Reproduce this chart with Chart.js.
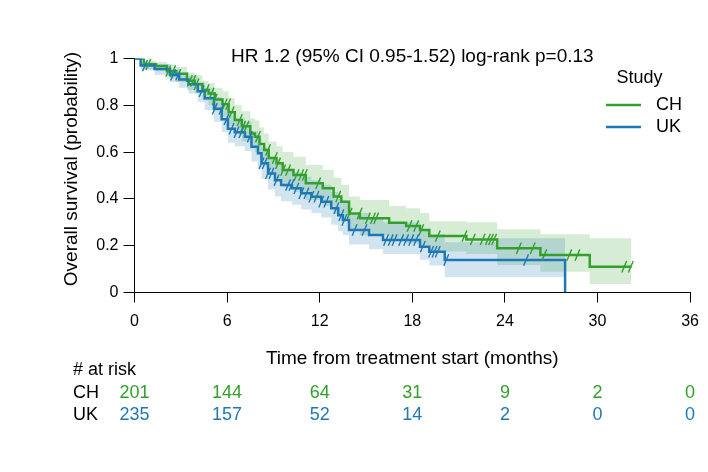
<!DOCTYPE html>
<html>
<head>
<meta charset="utf-8">
<title>Overall survival by study</title>
<script src="https://cdn.jsdelivr.net/npm/chart.js@4/dist/chart.umd.min.js"></script>
<style>
  html, body { margin: 0; padding: 0; background: #fff; }
  #wrap { width: 708px; height: 472px; }
</style>
</head>
<body>
<div id="wrap"><canvas id="kmChart" width="708" height="472"></canvas></div>
<script>
// Kaplan-Meier step values (time in months)
const chTime  = [0, 0.6, 1.4, 2.1, 2.7, 3.4, 3.9, 4.4, 4.8, 5.2, 5.7, 6.1, 6.5, 6.95, 7.5, 7.8, 8.1, 8.4, 8.7, 9.2, 9.6, 10.3, 11.1, 12.2, 12.9, 13.4, 13.9, 14.6, 16.5, 17.6, 18.5, 19.1, 21.5, 23.5, 26.3, 29.5, 32.2];
const chSurv  = [1, 0.975, 0.968, 0.946, 0.935, 0.905, 0.89, 0.865, 0.85, 0.825, 0.805, 0.77, 0.737, 0.71, 0.68, 0.666, 0.635, 0.609, 0.575, 0.552, 0.523, 0.502, 0.467, 0.445, 0.41, 0.388, 0.338, 0.317, 0.298, 0.284, 0.267, 0.241, 0.227, 0.189, 0.16, 0.11, 0.11];
const chLower = [1, 0.955, 0.945, 0.915, 0.9, 0.865, 0.85, 0.82, 0.8, 0.775, 0.75, 0.71, 0.675, 0.645, 0.615, 0.6, 0.565, 0.54, 0.505, 0.48, 0.45, 0.43, 0.395, 0.37, 0.335, 0.315, 0.265, 0.245, 0.225, 0.21, 0.195, 0.175, 0.165, 0.117, 0.089, 0.036, 0.036];
const chUpper = [1, 0.99, 0.985, 0.975, 0.965, 0.94, 0.93, 0.905, 0.895, 0.875, 0.86, 0.83, 0.8, 0.775, 0.745, 0.735, 0.705, 0.68, 0.645, 0.625, 0.6, 0.58, 0.545, 0.525, 0.49, 0.46, 0.41, 0.395, 0.37, 0.36, 0.34, 0.305, 0.3, 0.27, 0.249, 0.232, 0.232];
const chCensor = [0.9, 2.19, 2.5, 3.59, 3.8, 4.02, 4.67, 4.99, 5.2, 5.85, 6.07, 6.29, 6.82, 7.04, 7.26, 8.0, 8.65, 9.09, 9.3, 9.63, 9.95, 10.5, 10.8, 11.03, 11.9, 13.2, 13.94, 14.59, 15.12, 15.45, 15.66, 17.82, 18.25, 18.58, 19.65, 21.38, 21.92, 22.56, 22.9, 23.1, 23.3, 24.9, 25.8, 26.55, 28.17, 28.7, 31.73, 32.16];

const ukTime  = [0, 0.4, 1.3, 2.3, 2.9, 3.5, 4.1, 4.55, 5.15, 5.65, 6.05, 6.5, 7.15, 7.58, 8.0, 8.23, 8.65, 9.1, 9.5, 10.2, 10.8, 11.46, 12.1, 12.75, 13.2, 13.5, 13.9, 15.2, 16.1, 18.5, 19.1, 20.1, 23.5, 27.9];
const ukSurv  = [1, 0.97, 0.955, 0.93, 0.91, 0.89, 0.86, 0.83, 0.785, 0.74, 0.7, 0.685, 0.666, 0.623, 0.595, 0.552, 0.509, 0.48, 0.459, 0.445, 0.424, 0.409, 0.388, 0.36, 0.33, 0.31, 0.267, 0.246, 0.224, 0.196, 0.174, 0.139, 0.139, 0];
const ukLower = [1, 0.95, 0.93, 0.9, 0.875, 0.85, 0.815, 0.78, 0.73, 0.685, 0.64, 0.625, 0.605, 0.56, 0.53, 0.485, 0.44, 0.41, 0.39, 0.375, 0.355, 0.34, 0.32, 0.29, 0.262, 0.245, 0.205, 0.185, 0.165, 0.14, 0.115, 0.065, 0.065, 0.065];
const ukUpper = [1, 0.985, 0.975, 0.955, 0.94, 0.925, 0.9, 0.875, 0.835, 0.795, 0.76, 0.745, 0.73, 0.69, 0.66, 0.62, 0.58, 0.55, 0.53, 0.515, 0.495, 0.48, 0.46, 0.43, 0.4, 0.385, 0.34, 0.32, 0.3, 0.27, 0.25, 0.215, 0.232, 0.232];
const ukCensor = [0.68, 2.5, 2.83, 4.35, 5.2, 5.64, 5.96, 6.29, 6.61, 6.93, 7.47, 8.23, 8.44, 8.65, 8.87, 9.2, 9.95, 10.17, 10.49, 10.81, 11.14, 11.46, 11.79, 12.1, 12.43, 13.08, 13.4, 13.6, 14.26, 14.9, 16.3, 16.6, 16.85, 17.28, 17.6, 17.93, 18.25, 18.68, 19.22, 19.44, 19.65, 20.2, 25.37];

// numbers at risk table
const riskTimes = [0, 6, 12, 18, 24, 30, 36];
const chRisk = [201, 144, 64, 31, 9, 2, 0];
const ukRisk = [235, 157, 52, 14, 2, 0, 0];

const xTicks = [0, 6, 12, 18, 24, 30, 36];
const yTicks = [0, 0.2, 0.4, 0.6, 0.8, 1];

const hrText = "HR 1.2 (95% CI 0.95-1.52) log-rank p=0.13";
const xTitle = "Time from treatment start (months)";
const yTitle = "Overall survival (probability)";

const GREEN = "#33a02c";
const BLUE = "#1f78b4";
const FONT = '"Liberation Sans", Arial, Helvetica, sans-serif';

function toPoints(times, vals) {
  return times.map(function (t, i) { return { x: t, y: vals[i] }; });
}

// survival at time t from a step curve
function survAt(t, times, surv) {
  var s = surv[0];
  for (var i = 0; i < times.length; i++) {
    if (times[i] <= t) s = surv[i];
  }
  return s;
}

function censorPoints(cens, times, surv) {
  return cens.map(function (t) { return { x: t, y: survAt(t, times, surv) }; });
}

function band(data, order) {
  return {
    data: data,
    borderColor: "transparent",
    borderWidth: 0,
    pointRadius: 0,
    stepped: true,
    fill: false,
    order: order,
  };
}

function curve(data, color, order) {
  return {
    data: data,
    borderColor: color,
    borderWidth: 2.5,
    pointRadius: 0,
    stepped: true,
    fill: false,
    order: order,
  };
}

function ticksMarks(data, color, order) {
  return {
    data: data,
    showLine: false,
    borderColor: color,
    backgroundColor: color,
    pointStyle: "line",
    pointRadius: 6.2,
    pointRotation: -67,
    pointBorderColor: color,
    pointBorderWidth: 1.4,
    order: order,
  };
}

const chUpperSet = band(toPoints(chTime, chUpper), 11);
chUpperSet.fill = { target: "-1" };
chUpperSet.backgroundColor = "rgba(51,160,44,0.2)";
const ukUpperSet = band(toPoints(ukTime, ukUpper), 10);
ukUpperSet.fill = { target: "-1" };
ukUpperSet.backgroundColor = "rgba(31,120,180,0.2)";

const textPlugin = {
  id: "kmText",
  afterDraw: function (chart) {
    const ctx = chart.ctx;
    const xs = chart.scales.x;
    const a = chart.chartArea;
    const midX = (a.left + a.right) / 2;
    ctx.save();
    ctx.fillStyle = "#000";
    ctx.textBaseline = "middle";

    // annotation and axis titles
    ctx.font = "19px " + FONT;
    ctx.textAlign = "center";
    ctx.fillText(hrText, midX, 57);
    ctx.fillText(xTitle, midX, 359);
    ctx.save();
    ctx.translate(71.5, 169);
    ctx.rotate(-Math.PI / 2);
    ctx.fillText(yTitle, 0, 0);
    ctx.restore();

    // legend
    ctx.font = "18px " + FONT;
    ctx.fillText("Study", 639.5, 78);
    ctx.textAlign = "left";
    [[GREEN, "CH", 105], [BLUE, "UK", 127]].forEach(function (it) {
      ctx.strokeStyle = it[0];
      ctx.lineWidth = 2.5;
      ctx.beginPath();
      ctx.moveTo(606, it[2]);
      ctx.lineTo(641, it[2]);
      ctx.stroke();
      ctx.fillStyle = "#000";
      ctx.fillText(it[1], 656, it[2]);
    });

    // risk table
    ctx.fillText("# at risk", 73, 370);
    ctx.fillText("CH", 73, 393);
    ctx.fillText("UK", 73, 415);
    ctx.textAlign = "center";
    riskTimes.forEach(function (t, i) {
      const px = xs.getPixelForValue(t);
      ctx.fillStyle = GREEN;
      ctx.fillText(String(chRisk[i]), px, 393);
      ctx.fillStyle = BLUE;
      ctx.fillText(String(ukRisk[i]), px, 415);
    });
    ctx.restore();
  },
};

Chart.defaults.font.family = FONT;
Chart.defaults.font.size = 16;
Chart.defaults.color = "#000";

new Chart(document.getElementById("kmChart"), {
  type: "line",
  data: {
    datasets: [
      band(toPoints(chTime, chLower), 11),
      chUpperSet,
      band(toPoints(ukTime, ukLower), 10),
      ukUpperSet,
      curve(toPoints(chTime, chSurv), GREEN, 3),
      curve(toPoints(ukTime, ukSurv), BLUE, 2),
      ticksMarks(censorPoints(chCensor, chTime, chSurv), GREEN, 1),
      ticksMarks(censorPoints(ukCensor, ukTime, ukSurv), BLUE, 0),
    ],
  },
  options: {
    responsive: false,
    animation: false,
    events: [],
    layout: { padding: { left: 0, right: 17, top: 58.5, bottom: 139.5 } },
    plugins: {
      legend: { display: false },
      tooltip: { enabled: false },
    },
    scales: {
      x: {
        type: "linear",
        min: 0,
        max: 36,
        afterFit: function (scale) { scale.height = 40; },
        afterBuildTicks: function (scale) {
          scale.ticks = xTicks.map(function (v) { return { value: v }; });
        },
        ticks: {
          padding: 9,
          callback: function (v) { return String(v); },
        },
        grid: { drawOnChartArea: false, tickLength: 10, tickColor: "#000", tickWidth: 1 },
        border: { color: "#000", width: 1 },
      },
      y: {
        min: 0,
        max: 1,
        afterFit: function (scale) { scale.width = 134.5; },
        afterBuildTicks: function (scale) {
          scale.ticks = yTicks.map(function (v) { return { value: v }; });
        },
        ticks: {
          padding: 5,
          callback: function (v) { return String(Math.round(v * 10) / 10); },
        },
        grid: { drawOnChartArea: false, tickLength: 11, tickColor: "#000", tickWidth: 1 },
        border: { color: "#000", width: 1 },
      },
    },
  },
  plugins: [textPlugin],
});
</script>
</body>
</html>
